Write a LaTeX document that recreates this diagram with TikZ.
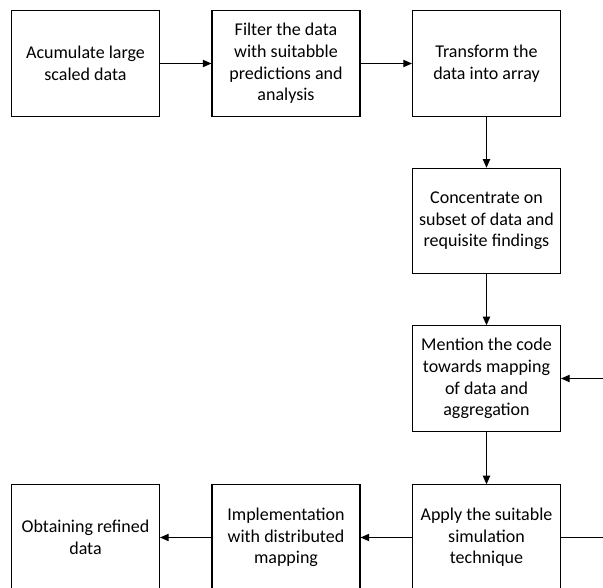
\documentclass[tikz,border=0pt]{standalone}
\usepackage{fontspec}
\setmainfont{Carlito}
\usepackage{tikz}
\usetikzlibrary{
    arrows.meta    % 箭头样式
}

\begin{document}
\begin{tikzpicture}[
    x=0.75pt, y=-0.75pt,
    >={Triangle[length=6.5pt,width=5.5pt]},
    stepbox/.style={draw, line width=0.8pt, minimum width=111pt, minimum height=79pt,
        align=center, inner sep=2pt, font=\fontsize{13.5pt}{16.2pt}\selectfont},
    flow/.style={line width=0.8pt, ->}
]
    % 页面范围
    \useasboundingbox (0,0) rectangle (603,588);

    % 第一行
    \node[stepbox] (s1) at (85.5,63.5) {Acumulate large\\scaled data};
    \node[stepbox] (s2) at (286,63.5) {Filter the data\\with suitabble\\predictions and\\analysis};
    \node[stepbox] (s3) at (486.5,63.5) {Transform the\\data into array};

    % 右侧一列
    \node[stepbox] (s4) at (486.5,221) {Concentrate on\\subset of data and\\requisite findings};
    \node[stepbox] (s5) at (486.5,378.5) {Mention the code\\towards mapping\\of data and\\aggregation};

    % 最后一行
    \node[stepbox] (s6) at (486.5,537.5) {Apply the suitable\\simulation\\technique};
    \node[stepbox] (s7) at (286,537.5) {Implementation\\with distributed\\mapping};
    \node[stepbox] (s8) at (85.5,537.5) {Obtaining refined\\data};

    % 箭头
    \draw[flow] (s1) -- (s2);
    \draw[flow] (s2) -- (s3);
    \draw[flow] (s3) -- (s4);
    \draw[flow] (s4) -- (s5);
    \draw[flow] (s5) -- (s6);
    \draw[flow] (s6) -- (s7);
    \draw[flow] (s7) -- (s8);

    % 右侧回路
    \coordinate (edge) at (607,0);
    \draw[flow] (s6.east) -- (s6.east -| edge) |- (s5.east);
\end{tikzpicture}
\end{document}
